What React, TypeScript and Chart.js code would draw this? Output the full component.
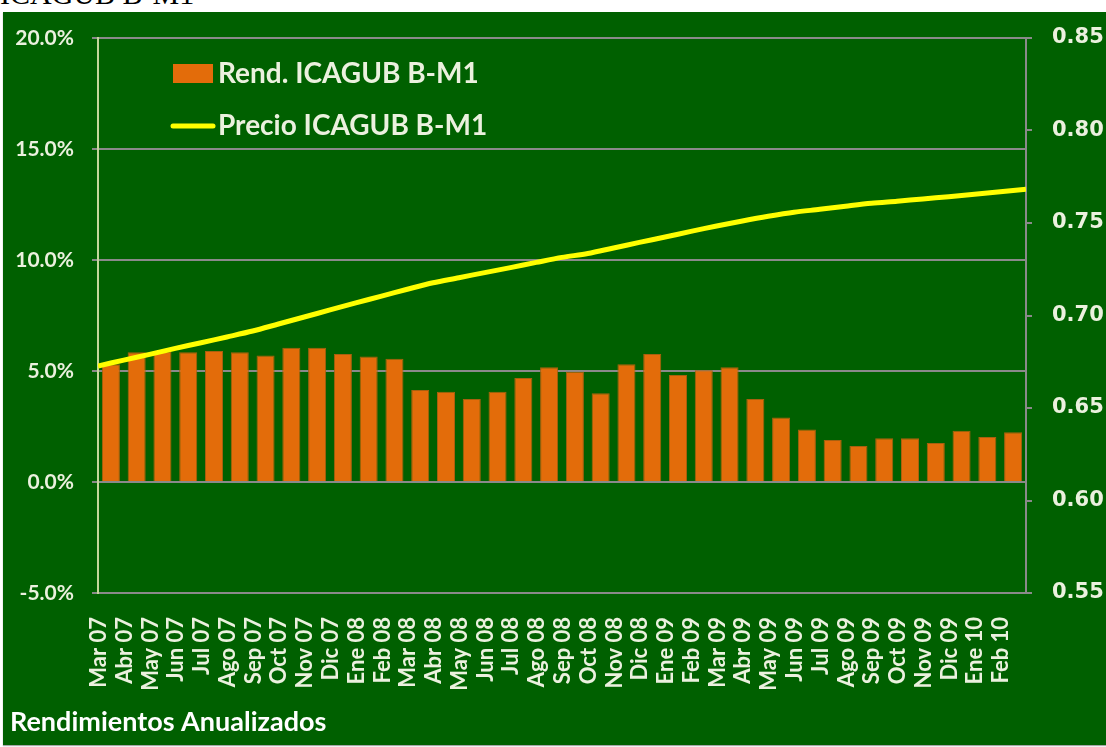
import React, { useEffect, useRef } from 'react';
import { Chart, registerables } from 'chart.js';

Chart.register(...registerables);

const categories = [
  'Mar 07', 'Abr 07', 'May 07', 'Jun 07', 'Jul 07', 'Ago 07', 'Sep 07', 'Oct 07', 'Nov 07', 'Dic 07',
  'Ene 08', 'Feb 08', 'Mar 08', 'Abr 08', 'May 08', 'Jun 08', 'Jul 08', 'Ago 08', 'Sep 08', 'Oct 08',
  'Nov 08', 'Dic 08', 'Ene 09', 'Feb 09', 'Mar 09', 'Abr 09', 'May 09', 'Jun 09', 'Jul 09', 'Ago 09',
  'Sep 09', 'Oct 09', 'Nov 09', 'Dic 09', 'Ene 10', 'Feb 10',
];

// Rend. ICAGUB B-M1 (% annualised)
const rendimiento = [
  5.3, 5.84, 5.87, 5.84, 5.9, 5.84, 5.7, 6.05, 6.05, 5.77,
  5.65, 5.55, 4.14, 4.07, 3.74, 4.07, 4.68, 5.17, 4.97, 4.0,
  5.3, 5.77, 4.82, 5.03, 5.17, 3.74, 2.91, 2.37, 1.89, 1.62,
  1.97, 1.97, 1.76, 2.31, 2.03, 2.24,
];

// Precio ICAGUB B-M1 at each month boundary (Mar 07 start ... Feb 10 end)
const precio = [
  0.6727, 0.6759, 0.6790, 0.6822, 0.6853, 0.6884, 0.6916, 0.6954, 0.6992, 0.7030,
  0.7068, 0.7105, 0.7142, 0.7177, 0.7204, 0.7232, 0.7259, 0.7287, 0.7314, 0.7335,
  0.7365, 0.7395, 0.7424, 0.7455, 0.7484, 0.7511, 0.7536, 0.7558, 0.7574, 0.7591,
  0.7607, 0.7618, 0.7630, 0.7642, 0.7655, 0.7669, 0.7682,
];

const leftTicks = [-5, 0, 5, 10, 15, 20];
const rightTicks = [0.55, 0.6, 0.65, 0.7, 0.75, 0.8, 0.85];

const GREEN = '#006000';
const ORANGE = '#E36C0A';
const YELLOW = '#FFFF00';
const TEXT = '#EBF1DE';
const GRID = '#8a8a8a';

const overlayPlugin = {
  id: 'overlay',
  afterDraw(chart: any) {
    const ctx = chart.ctx;
    ctx.save();
    // legend
    ctx.fillStyle = ORANGE;
    ctx.fillRect(170, 52, 40, 19);
    ctx.strokeStyle = YELLOW;
    ctx.lineWidth = 5;
    ctx.lineCap = 'round';
    ctx.beginPath();
    ctx.moveTo(170, 114);
    ctx.lineTo(210, 114);
    ctx.stroke();
    ctx.fillStyle = TEXT;
    ctx.font = 'bold 28px Lato';
    ctx.textBaseline = 'middle';
    ctx.textAlign = 'left';
    ctx.fillText('Rend. ICAGUB B-M1', 215, 62);
    ctx.fillText('Precio ICAGUB B-M1', 215, 114);
    // bottom title
    ctx.fillStyle = '#FFFFFF';
    ctx.font = 'bold 27px Lato';
    ctx.fillText('Rendimientos Anualizados', 7, 710);
    ctx.restore();
  },
};

const noPad = (s: any) => { s.paddingTop = 0; s.paddingBottom = 0; };

export default function App() {
  const ref = useRef<HTMLCanvasElement>(null);

  useEffect(() => {
    if (!ref.current) return;
    const chart = new Chart(ref.current, {
      type: 'bar',
      data: {
        labels: categories,
        datasets: [
          {
            type: 'line',
            label: 'Precio ICAGUB B-M1',
            data: precio.map((v, i) => ({ x: i, y: v })),
            xAxisID: 'x2',
            yAxisID: 'y1',
            borderColor: YELLOW,
            borderWidth: 5,
            pointRadius: 0,
            tension: 0.3,
            order: 0,
          } as any,
          {
            type: 'bar',
            label: 'Rend. ICAGUB B-M1',
            data: rendimiento,
            xAxisID: 'x',
            yAxisID: 'y',
            backgroundColor: ORANGE,
            borderColor: '#A8600F',
            borderWidth: 1,
            grouped: false,
            categoryPercentage: 1,
            barPercentage: 0.7,
            order: 1,
          } as any,
        ],
      },
      options: {
        animation: false,
        responsive: false,
        maintainAspectRatio: false,
        layout: { padding: { top: 26, left: 0, right: 0, bottom: 0 } },
        plugins: { legend: { display: false }, tooltip: { enabled: false } },
        scales: {
          x: {
            type: 'category',
            position: 'bottom',
            grid: { display: false, drawTicks: false },
            border: { display: true, color: GRID, width: 2 },
            ticks: {
              color: TEXT,
              font: { family: 'Lato', weight: 'bold', size: 22 },
              minRotation: 90,
              maxRotation: 90,
              autoSkip: false,
              padding: 24,
              labelOffset: -12,
            },
            afterFit: (s: any) => { s.height = 152; s.paddingLeft = 0; s.paddingRight = 0; },
          },
          x2: {
            type: 'linear',
            display: false,
            min: 0,
            max: precio.length - 1,
            offset: false,
          },
          y: {
            position: 'left',
            min: -5,
            max: 20,
            afterBuildTicks: (s: any) => { s.ticks = leftTicks.map((v) => ({ value: v })); },
            grid: { color: GRID, lineWidth: 2, tickLength: 6 },
            border: { color: '#C4D79B', width: 2 },
            ticks: {
              color: TEXT,
              padding: 18,
              font: { family: 'Lato', weight: 'bold', size: 21 },
              callback: (v: any) => Number(v).toFixed(1) + '%',
            },
            afterFit: (s: any) => { s.width = 95; noPad(s); },
          },
          y1: {
            position: 'right',
            min: 0.55,
            max: 0.85,
            afterBuildTicks: (s: any) => { s.ticks = rightTicks.map((v) => ({ value: v })); },
            grid: { drawOnChartArea: false, color: GRID, lineWidth: 2, tickLength: 6 },
            border: { color: GRID, width: 2 },
            ticks: {
              color: TEXT,
              padding: 20,
              font: { family: 'DejaVu Sans', weight: 'bold', size: 21 },
              callback: (v: any) => Number(v).toFixed(2),
            },
            afterFit: (s: any) => { s.width = 80; noPad(s); },
          },
        },
      },
      plugins: [overlayPlugin],
    });
    return () => chart.destroy();
  }, []);

  return (
    <div style={{ position: 'fixed', left: 0, top: 0, width: 1106, height: 747, background: '#fff', overflow: 'hidden' }}>
      <div
        style={{
          position: 'absolute', left: 0, top: -21, fontFamily: '"Liberation Serif", serif',
          fontSize: 30, lineHeight: '30px', color: '#000', whiteSpace: 'nowrap',
        }}
      >
        ICAGUB B-M1
      </div>
      <div
        style={{
          position: 'absolute', left: 3, top: 12, width: 1103, height: 733, background: GREEN,
          boxShadow: '0 1px 1px rgba(0,0,0,0.35)',
        }}
      >
        <canvas ref={ref} width={1103} height={733} style={{ display: 'block', width: 1103, height: 733 }} />
      </div>
    </div>
  );
}
